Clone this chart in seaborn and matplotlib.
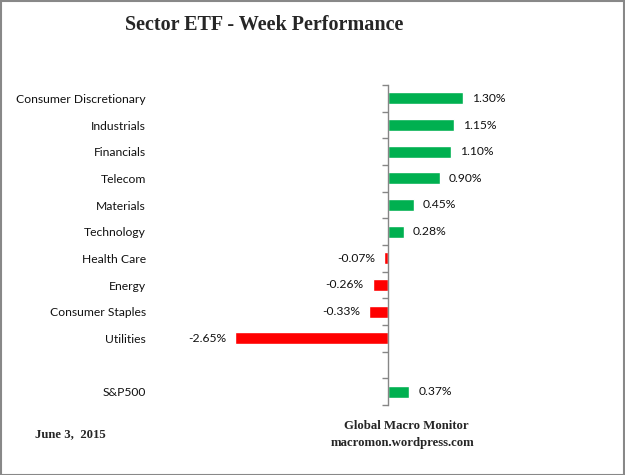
import pandas as pd
import seaborn as sns
import matplotlib.pyplot as plt
from matplotlib.patches import Rectangle

# Данные
sectors = ['Consumer Discretionary', 'Industrials', 'Financials', 'Telecom',
           'Materials', 'Technology', 'Health Care', 'Energy',
           'Consumer Staples', 'Utilities', '', 'S&P500']
changes = [1.30, 1.15, 1.10, 0.90, 0.45, 0.28, -0.07, -0.26, -0.33, -2.65, None, 0.37]

df = pd.DataFrame({'sector': sectors, 'change': changes})
df = df[df['sector'] != '']
df['sign'] = ['up' if v >= 0 else 'down' for v in df['change']]

sns.set_style('white')
plt.rcParams['font.family'] = ['Lato', 'DejaVu Sans']

fig = plt.figure(figsize=(6.25, 4.75), dpi=100)
ax = fig.add_axes([157 / 625, 1 - 405 / 475, (561 - 157) / 625, 320 / 475])

sns.barplot(data=df, x='change', y='sector', order=sectors, hue='sign',
            palette={'up': '#00B050', 'down': '#FF0000'}, width=0.45,
            legend=False, ax=ax, saturation=1)

for c in ax.containers:
    ax.bar_label(c, fmt='%.2f%%', padding=6.5, fontsize=8.7, color='#111111')

ax.set_xlim(-4, 3)
ax.set_ylim(len(sectors) - 0.5, -0.5)
ax.set_xlabel('')
ax.set_ylabel('')
ax.set_xticks([])

for s in ['top', 'right', 'bottom']:
    ax.spines[s].set_visible(False)
ax.spines['left'].set_position(('data', 0))
ax.spines['left'].set_color('#868686')
ax.spines['left'].set_linewidth(1)

ax.set_yticks(range(len(sectors)))
ax.set_yticklabels(sectors, fontsize=8.7, color='#111111')
ax.tick_params(axis='y', which='major', left=True, length=0, pad=(388 - 146) * 0.72)
ax.set_yticks([i - 0.5 for i in range(len(sectors) + 1)], minor=True)
ax.tick_params(axis='y', which='minor', left=True, length=4, width=1,
               color='#868686', direction='out')

serif = ['Liberation Serif', 'DejaVu Serif']
fig.text(264 / 625, 1 - 25 / 475, 'Sector ETF - Week Performance', ha='center', va='center',
         fontsize=14.5, fontweight='bold', family=serif)
fig.text(35 / 625, 1 - 434 / 475, 'June 3,  2015', ha='left', va='center',
         fontsize=9.2, fontweight='bold', family=serif)
fig.text(406 / 625, 1 - 426 / 475, 'Global Macro Monitor', ha='center', va='center',
         fontsize=9.2, fontweight='bold', family=serif)
fig.text(403 / 625, 1 - 443 / 475, 'macromon.wordpress.com', ha='center', va='center',
         fontsize=9.2, fontweight='bold', family=serif)

fig.patches.append(Rectangle((0.001, 0.001), 0.997, 0.997, transform=fig.transFigure,
                             fill=False, edgecolor='#888888', linewidth=1.5))

plt.savefig('out.png', dpi=100)
